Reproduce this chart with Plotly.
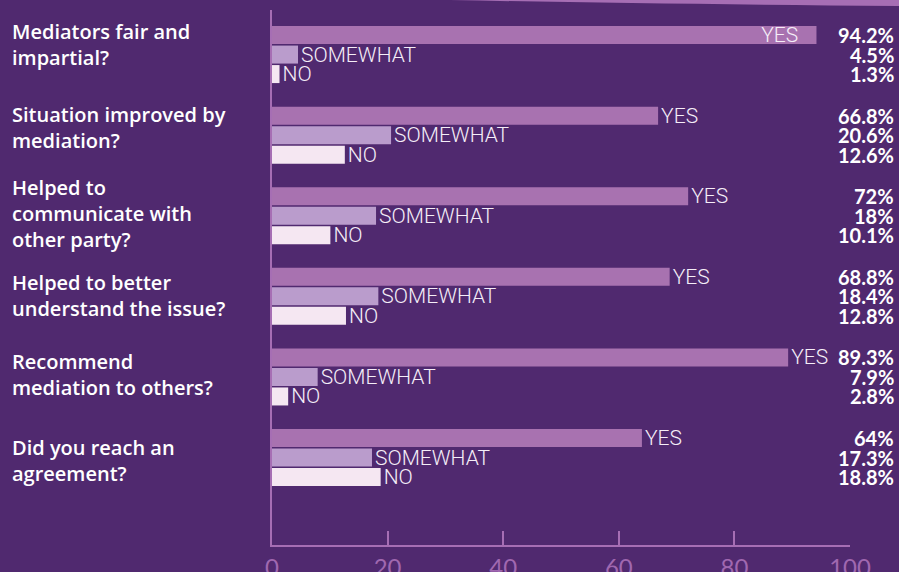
import plotly.graph_objects as go

categories = [
    "Mediators fair and<br>impartial?",
    "Situation improved by<br>mediation?",
    "Helped to<br>communicate with<br>other party?",
    "Helped to better<br>understand the issue?",
    "Recommend<br>mediation to others?",
    "Did you reach an<br>agreement?",
]
yes_vals = [94.2, 66.8, 72, 68.8, 89.3, 64]
somewhat_vals = [4.5, 20.6, 18, 18.4, 7.9, 17.3]
no_vals = [1.3, 12.6, 10.1, 12.8, 2.8, 18.8]
series_names = ["YES", "SOMEWHAT", "NO"]
tick_vals = [0, 20, 40, 60, 80, 100]
tick_text = ["0", "20", "40", "60", "80", "100"]

BG = "rgb(80,41,111)"
AXIS = "rgb(166,110,180)"
COLORS = ["rgb(168,114,176)", "rgb(186,156,204)", "rgb(245,231,242)"]
W, H = 899, 572
L, R, T, B = 272, 49, 10, 27

series = [yes_vals, somewhat_vals, no_vals]
bar_font = dict(family="Roboto", size=21, color="rgb(245,238,248)", weight=300)
fig = go.Figure()
for name, vals, col in zip(series_names, series, COLORS):
    positions = ["inside" if (name == "YES" and v > 92) else "outside" for v in vals]
    fig.add_trace(go.Bar(
        y=categories, x=vals, orientation="h", name=name,
        marker=dict(color=col, line=dict(width=0)),
        text=[(name + "   " if p == "inside" else name) for p in positions],
        textposition=positions,
        insidetextanchor="end", constraintext="none",
        textfont=bar_font, outsidetextfont=bar_font, insidetextfont=bar_font,
        cliponaxis=False, hoverinfo="skip",
    ))

annotations = []
plot_w = W - L - R
label_yshift = [10, 8, 2, 1, 2, -3]
for cat, ys in zip(categories, label_yshift):
    annotations.append(dict(
        x=(10 - L) / plot_w, xref="paper", y=cat, yref="y", yshift=ys,
        text=cat, showarrow=False, xanchor="left", yanchor="middle", align="left",
        font=dict(family="Open Sans", size=20, color="white", weight=600),
    ))
shifts = [19.5, 0, -19.5]
for vals, sh in zip(series, shifts):
    for cat, v in zip(categories, vals):
        annotations.append(dict(
            x=(896 - L) / plot_w, xref="paper", y=cat, yref="y", yshift=sh,
            text=f"{v:g}%", showarrow=False, xanchor="right", yanchor="middle",
            font=dict(family="Lato", size=20, color="white", weight="bold"),
        ))

def px(x):
    return (x - L) / plot_w
def py(y):
    return (H - B - y) / (H - T - B)

shapes = [dict(
    type="path", xref="paper", yref="paper",
    path=f"M {px(450)} {py(0)} L {px(899)} {py(0)} L {px(899)} {py(6)} Q {px(650)} {py(4)} {px(450)} {py(0)} Z",
    fillcolor=AXIS, line=dict(width=0),
)]

fig.update_layout(
    width=W, height=H,
    margin=dict(l=L, r=R, t=T, b=B, autoexpand=False),
    paper_bgcolor=BG, plot_bgcolor=BG,
    barmode="group", bargap=0.274, bargroupgap=0.077,
    showlegend=False,
    annotations=annotations, shapes=shapes,
    xaxis=dict(
        range=[0, 100], tickvals=tick_vals, ticktext=tick_text,
        showline=True, linecolor=AXIS, linewidth=2,
        ticks="inside", ticklen=14, tickwidth=2, tickcolor=AXIS,
        showgrid=False, zeroline=False, automargin=False,
        tickfont=dict(family="Lato", size=24, color="rgb(160,104,176)"),
    ),
    yaxis=dict(
        type="category", range=[6.085, -0.553],
        showline=True, linecolor=AXIS, linewidth=2, automargin=False,
        showticklabels=False, ticks="", showgrid=False, zeroline=False,
    ),
)

fig.write_html(
    "out.html",
    config={"displayModeBar": False},
    post_script="document.body.style.margin='0';document.body.style.overflow='hidden';document.body.style.background='" + BG + "';",
)
